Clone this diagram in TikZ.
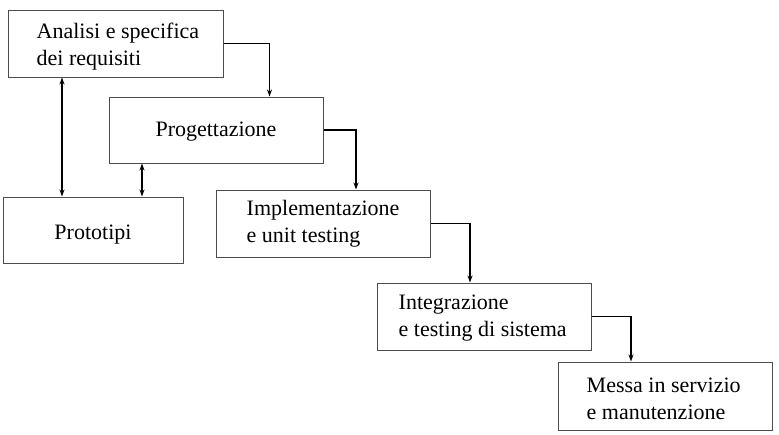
\documentclass[tikz,border=0pt]{standalone}
\usepackage{fontspec}
\setmainfont{Liberation Serif}
\usetikzlibrary{arrows.meta}
\tikzset{
  phase/.style={draw=black!70, line width=1pt, fill=white},
  lbl/.style={font=\fontsize{22}{27}\selectfont, align=left, inner sep=0pt},
  flow/.style={line width=1.3pt, -{Stealth[length=7pt,width=5pt]}},
  link/.style={line width=1.4pt, {Stealth[length=7pt,width=5pt]}-{Stealth[length=7pt,width=5pt]}}
}
\begin{document}
\begin{tikzpicture}[x=1pt,y=-1pt]
  \useasboundingbox[fill=white] (0,0) rectangle (779,434);
  % phases
  \node[phase, minimum width=215pt, minimum height=67pt] (req) at (115.5,43.5) {};
  \node[phase, minimum width=214pt, minimum height=66pt] (prog) at (216,130) {};
  \node[phase, minimum width=180pt, minimum height=66pt] (proto) at (93,230) {};
  \node[phase, minimum width=214pt, minimum height=67pt] (impl) at (323,223.5) {};
  \node[phase, minimum width=214pt, minimum height=67pt] (integ) at (484,316.5) {};
  \node[phase, minimum width=214pt, minimum height=68pt] (messa) at (665,396) {};
  % texts
  \node[lbl, anchor=west, yshift=-3pt] (req-t) at ([xshift=29pt]req.west) {Analisi e specifica\\dei requisiti};
  \node[lbl, yshift=-2pt] (prog-t) at (prog) {Progettazione};
  \node[lbl, yshift=-5pt] (proto-t) at (proto) {Prototipi};
  \node[lbl, anchor=west] (impl-t) at ([xshift=31pt]impl.west) {Implementazione\\e unit testing};
  \node[lbl, anchor=west, yshift=-2pt] (integ-t) at ([xshift=22pt]integ.west) {Integrazione\\e testing di sistema};
  \node[lbl, anchor=west, yshift=-2.5pt] (messa-t) at ([xshift=29pt]messa.west) {Messa in servizio\\e manutenzione};
  % cascade
  \draw[flow] (req.east) -| ([xshift=53.5pt]prog.north);
  \draw[flow] (prog.east) -| ([xshift=33pt]impl.north);
  \draw[flow] (impl.east) -| ([xshift=-14pt]integ.north);
  \draw[flow] (integ.east) -| ([xshift=-34pt]messa.north);
  % prototipi
  \draw[link] ([xshift=-53.5pt]req.south) -- ([xshift=-53.5pt]req.south |- proto.north);
  \draw[link] ([xshift=-74pt]prog.south) -- ([xshift=-74pt]prog.south |- proto.north);
\end{tikzpicture}
\end{document}
